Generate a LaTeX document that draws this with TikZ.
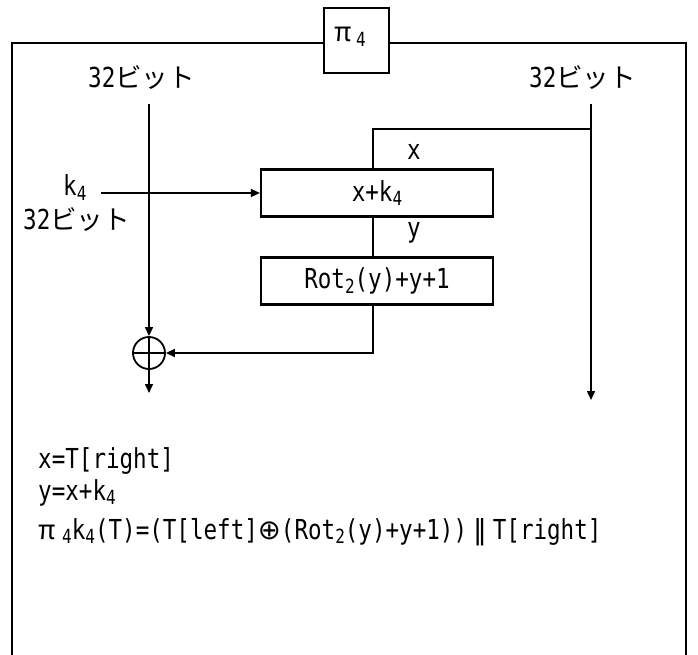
\documentclass[tikz,border=0pt]{standalone}
\usepackage{fontspec}
\setmainfont{Noto Sans CJK JP}
\newfontfamily\hw[FakeStretch=0.82]{DejaVu Sans Mono}
\newfontfamily\symf{DejaVu Sans}
\usetikzlibrary{arrows.meta}
\newcommand\lo[1]{\raisebox{-4.5pt}{\fontsize{19.5}{19.5}\selectfont\hw #1}}
\newcommand\bitlbl{{\fontsize{27.5}{30}\selectfont\hw 32}ビット}
\tikzset{
  frame/.style={line width=2.4pt},
  blk/.style={draw, line width=2.2pt, minimum width=232pt, minimum height=47pt, inner sep=0pt},
  conn/.style={line width=1.5pt},
  arr/.style={conn, -{Triangle[length=9pt,width=8pt]}},
  lbl/.style={inner sep=0pt, anchor=base west},
  mono/.style={font=\fontsize{27.5}{30}\selectfont\hw},
}
\begin{document}
\begin{tikzpicture}[x=1pt, y=-1pt, font=\fontsize{26.6}{30}\selectfont]
\useasboundingbox (0,0) rectangle (698,655);
% outer frame (open at bottom)
\draw[frame] (12,656) -- (12,43) -- (686,43) -- (686,656);
\node[draw, fill=white, line width=2.2pt, minimum width=65pt, minimum height=65pt, inner sep=0pt] (pi) at (356.5,40.5) {};
\node[lbl] (pit) at (334,42) {\makebox[22pt][l]{π}\lo{4}};
% top labels
\node[lbl] (lbit) at (88,88) {\bitlbl};
\node[lbl] (rbit) at (529,88) {\bitlbl};
% blocks
\node[blk, mono] (add) at (377,193) {x+k\lo{4}};
\node[blk, mono] (rot) at (377,281) {Rot\lo{2}(y)+y+1};
\node[circle, draw, line width=1.8pt, minimum size=32pt, inner sep=0pt] (xor) at (149,353) {};
\draw[conn] (xor.north) -- (xor.south);
\draw[conn] (xor.west) -- (xor.east);
% labels
\node[lbl, mono] (k4) at (63,196) {k\lo{4}};
\node[lbl] (kbit) at (23,229) {\bitlbl};
\node[lbl, mono] (xl) at (407,160) {x};
\node[lbl, mono] (yl) at (407,237) {y};
% coordinates
\coordinate (lt) at (149,104);
\coordinate (rt) at (591,104);
\coordinate (rend) at (591,400);
\coordinate (oend) at (149,393);
\coordinate (br) at (591,129);
\coordinate (kst) at (101,193);
% connectors
\draw[arr] (lt) -- (xor.north);
\draw[arr] (rt) -- (rend);
\draw[conn] (br) -| ([xshift=-4pt]add.north);
\draw[conn] ([xshift=-4pt]add.south) -- ([xshift=-4pt]rot.north);
\draw[arr] ([xshift=-4pt]rot.south) |- (xor.east);
\draw[arr] (xor.south) -- (oend);
\draw[arr] (kst) -- (add.west);
% formulas
\node[lbl, mono] (f1) at (38,468) {x=T[right]};
\node[lbl, mono] (f2) at (38,500) {y=x+k\lo{4}};
\node[lbl, mono] (f3) at (38,539) {\makebox[24pt][l]{\fontsize{26.6}{30}\selectfont\rmfamily π}\lo{4}k\lo{4}(T)=(T[left]{\symf ⊕}(Rot\lo{2}(y)+y+1))\hspace{6pt}{\symf ‖}\hspace{6pt}T[right]};
\end{tikzpicture}
\end{document}
